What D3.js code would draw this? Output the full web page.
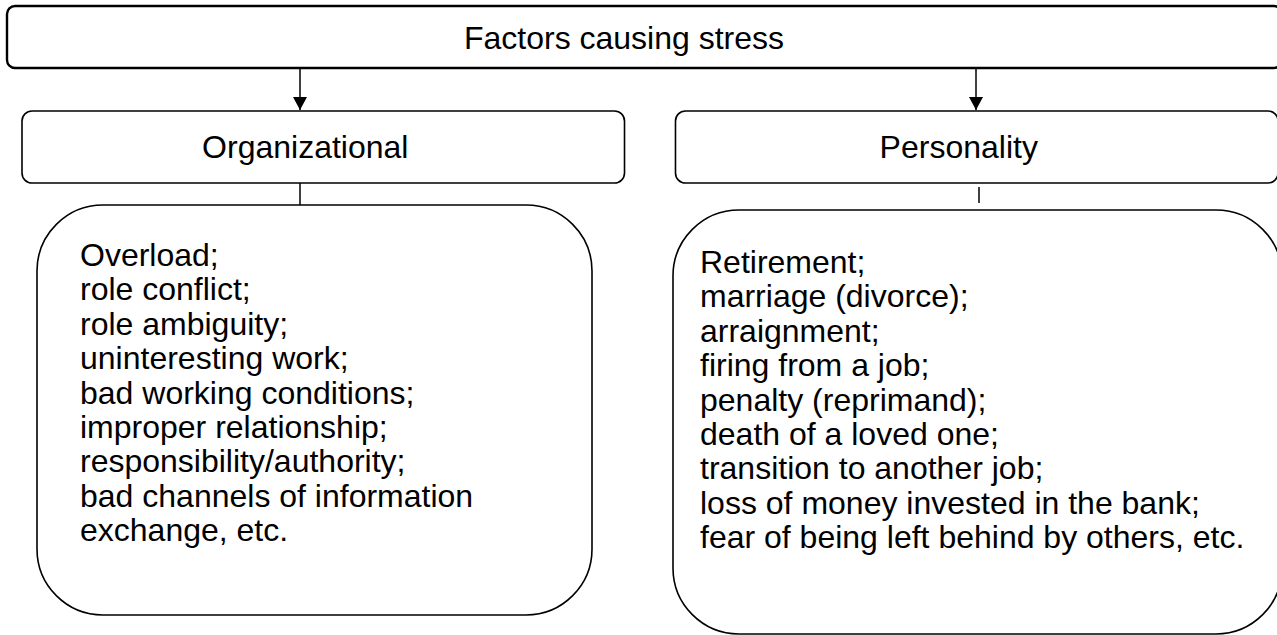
<!DOCTYPE html>
<html>
<head>
<meta charset="utf-8">
<script src="https://cdn.jsdelivr.net/npm/d3@7"></script>
<style>
  html, body { margin: 0; padding: 0; background: #fff; }
  svg { display: block; }
  text { font-family: Arial, "Liberation Sans", sans-serif; fill: #000; }
</style>
</head>
<body>
<div id="chart"></div>
<script>
// diagram content
var rootTitle = 'Factors causing stress';
var groups = ['Organizational', 'Personality'];
var organizationalFactors = [
	'Overload;',
	'role conflict;',
	'role ambiguity;',
	'uninteresting work;',
	'bad working conditions;',
	'improper relationship;',
	'responsibility/authority;',
	'bad channels of information',
	'exchange, etc.'
];
var personalityFactors = [
	'Retirement;',
	'marriage (divorce);',
	'arraignment;',
	'firing from a job;',
	'penalty (reprimand);',
	'death of a loved one;',
	'transition to another job;',
	'loss of money invested in the bank;',
	'fear of being left behind by others, etc.'
];
var factorLists = [organizationalFactors, personalityFactors];

var width = 1277, height = 635;
var fontSize = 32;
var lineStep = 34.4;
var labelShift = -18; // text boxes sit a bit left of centre

var svg = d3.select('#chart').append('svg')
	.attr('width', width)
	.attr('height', height);

var x = d3.scaleBand()
	.domain(groups)
	.range([22, 1278])
	.paddingInner(0.078);

// root box
svg.append('rect')
	.attr('x', 7).attr('y', 6)
	.attr('width', 1275).attr('height', 62)
	.attr('rx', 8).attr('ry', 8)
	.attr('fill', 'none')
	.attr('stroke', '#000')
	.attr('stroke-width', 2.4);

svg.append('text')
	.attr('x', (7 + 1277) / 2 + labelShift)
	.attr('y', 38)
	.attr('text-anchor', 'middle')
	.attr('dominant-baseline', 'central')
	.style('font-size', fontSize + 'px')
	.text(rootTitle);

svg.append('defs').append('marker')
	.attr('id', 'arrow')
	.attr('viewBox', '0 0 14 15')
	.attr('refX', 14).attr('refY', 7.5)
	.attr('markerWidth', 15).attr('markerHeight', 14)
	.attr('markerUnits', 'userSpaceOnUse')
	.attr('orient', 'auto')
	.append('path')
	.attr('d', 'M0,0 L14,7.5 L0,15 Z')
	.attr('fill', '#000');

var arrowX = [300, 976];
var stubs = [{x: 300, y1: 183, y2: 205}, {x: 979, y1: 187, y2: 203}];
var bigTop = [205, 210];
var bigBottom = [615, 634];
var bigLeft = [37, 673];
var bigRight = [592, 1282];
var textX = [80, 700];
var textTop = [255, 262];

var col = svg.selectAll('g.col')
	.data(groups)
	.enter().append('g')
	.attr('class', 'col');

col.append('line')
	.attr('x1', function(d, i){ return arrowX[i]; })
	.attr('x2', function(d, i){ return arrowX[i]; })
	.attr('y1', 68).attr('y2', 110)
	.attr('stroke', '#000')
	.attr('stroke-width', 1.5)
	.attr('marker-end', 'url(#arrow)');

col.append('rect')
	.attr('x', function(d){ return x(d); })
	.attr('y', 111)
	.attr('width', x.bandwidth())
	.attr('height', 72)
	.attr('rx', 10).attr('ry', 10)
	.attr('fill', 'none')
	.attr('stroke', '#000')
	.attr('stroke-width', 1.6);

col.append('text')
	.attr('x', function(d){ return x(d) + x.bandwidth() / 2 + labelShift; })
	.attr('y', 147)
	.attr('text-anchor', 'middle')
	.attr('dominant-baseline', 'central')
	.style('font-size', fontSize + 'px')
	.text(function(d){ return d; });

col.append('line')
	.attr('x1', function(d, i){ return stubs[i].x; })
	.attr('x2', function(d, i){ return stubs[i].x; })
	.attr('y1', function(d, i){ return stubs[i].y1; })
	.attr('y2', function(d, i){ return stubs[i].y2; })
	.attr('stroke', '#000')
	.attr('stroke-width', 1.5);

col.append('rect')
	.attr('x', function(d, i){ return bigLeft[i]; })
	.attr('y', function(d, i){ return bigTop[i]; })
	.attr('width', function(d, i){ return bigRight[i] - bigLeft[i]; })
	.attr('height', function(d, i){ return bigBottom[i] - bigTop[i]; })
	.attr('rx', 66).attr('ry', 66)
	.attr('fill', 'none')
	.attr('stroke', '#000')
	.attr('stroke-width', 1.6);

col.each(function(d, i){
	var y = d3.scaleLinear()
		.domain([0, 1])
		.range([textTop[i], textTop[i] + lineStep]);
	d3.select(this).selectAll('text.item')
		.data(factorLists[i])
		.enter().append('text')
		.attr('class', 'item')
		.attr('x', textX[i])
		.attr('y', function(t, j){ return y(j); })
		.attr('dominant-baseline', 'central')
		.style('font-size', fontSize + 'px')
		.text(function(t){ return t; });
});
</script>
</body>
</html>
